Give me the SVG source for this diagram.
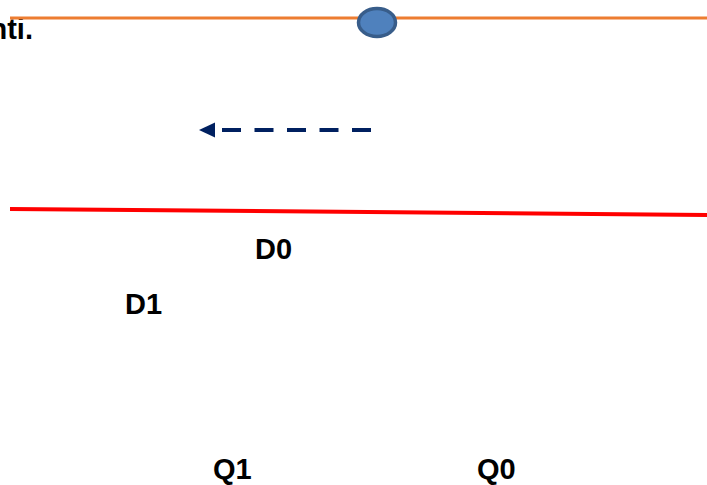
<svg xmlns="http://www.w3.org/2000/svg" width="707" height="485" viewBox="0 0 707 485">
  <style>
    .lbl { font-family: "Liberation Sans", Arial, sans-serif; font-weight: bold; font-size: 29px; fill: #000; }
  </style>
  <defs>
    <marker id="ah" markerWidth="4" markerHeight="4" refX="0" refY="1.9" orient="auto" markerUnits="strokeWidth" overflow="visible">
      <path d="M0,0 L4,1.9 L0,3.8 Z" fill="#002060"/>
    </marker>
  </defs>
  <rect width="707" height="485" fill="#fff"/>
  <text class="lbl" x="33" y="39" text-anchor="end">nti.</text>
  <g id="connectors">
    <line x1="10" y1="18" x2="707" y2="18" stroke="#ED7D31" stroke-width="3"/>
    <line x1="10" y1="209" x2="707" y2="215" stroke="#FF0000" stroke-width="4"/>
    <line x1="371" y1="130" x2="215" y2="130" stroke="#002060" stroke-width="4" stroke-dasharray="19,13.5" marker-end="url(#ah)"/>
  </g>
  <g id="node-dot">
    <ellipse cx="377" cy="22.5" rx="18.5" ry="14" fill="#4F81BD" stroke="#385D8A" stroke-width="3.5"/>
  </g>
  <g id="node-D0"><text class="lbl" x="255" y="259">D0</text></g>
  <g id="node-D1"><text class="lbl" x="125" y="314">D1</text></g>
  <g id="node-Q1"><text class="lbl" x="213" y="479">Q1</text></g>
  <g id="node-Q0"><text class="lbl" x="477" y="479">Q0</text></g>
</svg>
